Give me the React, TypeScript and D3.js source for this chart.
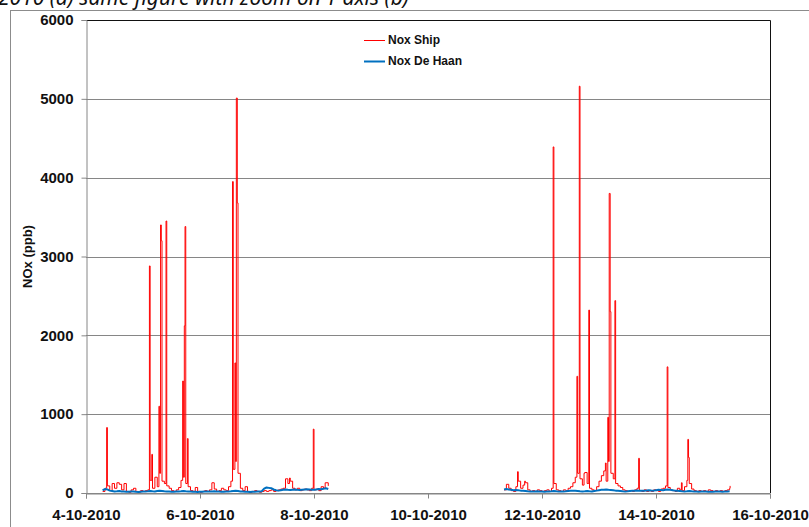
import React, { useRef, useEffect } from 'react';
import * as d3 from 'd3';

// hourly readings, hour 0 = 4-10-2010 00:00
const leftStartHour = 7;
const rightStartHour = 176;

const redBaseLeft = [
  20, 60, 90, 30, 120, 60, 130, 110, 40, 120, 20, 10, 40, 60, 20, 10, 30, 20, 30, 40,
  160, 60, 200, 80, 250, 150, 120, 90, 60, 30, 20, 40, 70, 160, 200, 120, 80, 30, 20, 70,
  20, 10, 20, 30, 20, 40, 130, 50, 20, 30, 60, 40, 30, 80, 150, 300, 400, 250, 60, 30,
  80, 20, 10, 20, 30, 20, 10, 20, 30, 20, 30, 40, 20, 30, 40, 50, 60, 180, 120, 150,
  60, 40, 60, 30, 40, 50, 40, 30, 60, 40, 50, 30, 80, 60, 130, 90,
];

const redBaseRight = [
  40, 110, 60, 30, 20, 80, 150, 60, 100, 130, 40, 20, 30, 20, 40, 30, 20, 30, 40, 20,
  60, 120, 40, 30, 20, 40, 30, 60, 80, 130, 200, 250, 180, 100, 260, 120, 60, 40, 30, 80,
  150, 220, 280, 150, 400, 250, 180, 120, 90, 70, 40, 30, 20, 30, 20, 40, 60, 30, 20, 40,
  20, 30, 20, 40, 30, 20, 50, 60, 90, 70, 40, 30, 20, 60, 40, 30, 80, 160, 120, 50,
  30, 20, 30, 20, 30, 20, 40, 30, 20, 30, 20, 30, 20, 30, 40, 60,
];

// short peaks between the hourly readings: [hour, ppb]
const redPeaksLeft: [number, number][] = [
  [8.7, 830], [26.7, 2880], [27.7, 490], [30.7, 1100], [31.4, 3400], [31.7, 3200],
  [33.7, 3450], [40.7, 1420], [41.4, 2120], [41.7, 3380], [42.7, 690], [61.7, 3950],
  [62.7, 1650], [63.3, 5010], [63.7, 3680], [85.7, 190], [95.7, 810], [100.7, 130],
];

const redPeaksRight: [number, number][] = [
  [181.7, 270], [184.7, 150], [196.7, 4390], [206.7, 1480], [207.7, 5160], [209.7, 250],
  [211.7, 2320], [218.7, 380], [219.7, 960], [220.3, 3800], [220.7, 2300], [222.7, 2440],
  [232.7, 440], [244.7, 1600], [250.7, 130], [253.4, 680], [253.7, 450], [271.2, 90],
];

const blueLeft = [
  35, 50, 45, 30, 25, 20, 22, 25, 20, 18, 15, 15, 18, 20, 15, 14, 16, 18, 20, 22,
  25, 22, 20, 25, 28, 25, 22, 20, 18, 16, 15, 18, 20, 22, 25, 22, 20, 18, 16, 15,
  14, 15, 16, 18, 20, 18, 20, 22, 20, 18, 16, 15, 18, 20, 22, 25, 28, 25, 20, 18,
  16, 15, 14, 15, 16, 18, 20, 22, 55, 70, 65, 60, 45, 35, 30, 35, 40, 45, 40, 38,
  42, 45, 40, 38, 42, 45, 48, 45, 42, 40, 45, 50, 48, 55, 60, 50,
];

const blueRight = [
  45, 50, 45, 40, 35, 38, 35, 30, 28, 25, 22, 20, 18, 20, 22, 20, 18, 16, 18, 20,
  22, 25, 22, 20, 18, 20, 22, 25, 28, 30, 28, 25, 22, 20, 22, 25, 22, 20, 25, 30,
  35, 40, 42, 45, 40, 38, 35, 30, 28, 25, 22, 20, 22, 25, 28, 30, 32, 30, 28, 30,
  32, 35, 32, 30, 35, 40, 38, 35, 40, 45, 40, 35, 30, 28, 25, 22, 20, 22, 25, 22,
  20, 18, 16, 18, 20, 18, 16, 15, 16, 18, 20, 18, 16, 18, 20, 22,
];

const xTickDays = [4, 6, 8, 10, 12, 14, 16]; // October 2010
const yTicks = [0, 1000, 2000, 3000, 4000, 5000, 6000];
const seriesNames = ['Nox Ship', 'Nox De Haan'];
const seriesColors = ['#ff0000', '#0070c0'];

const t0 = Date.UTC(2010, 9, 4);
const toDate = (h: number) => new Date(t0 + h * 3600e3);

function withHours(values: number[], start: number): [number, number][] {
  return values.map((v, i) => [start + i, v]);
}

function merged(base: [number, number][], peaks: [number, number][]) {
  return [...base, ...peaks].sort((a, b) => a[0] - b[0]);
}

export default function App() {
  const ref = useRef<SVGSVGElement>(null);

  useEffect(() => {
    if (!ref.current) return;
    const svg = d3.select(ref.current);
    svg.selectAll('*').remove();

    const width = 809;
    const height = 527;
    const margin = { top: 20, right: 39, bottom: 34, left: 86 };
    const innerW = width - margin.left - margin.right;
    const innerH = height - margin.top - margin.bottom;
    const font = '"Liberation Sans", Arial, sans-serif';

    // caption left over from the page above, cut by the top edge
    svg.append('text')
      .attr('x', -2)
      .attr('y', 5)
      .attr('font-family', '"Noto Sans", sans-serif')
      .attr('font-style', 'italic')
      .attr('font-size', 21)
      .attr('fill', '#111')
      .text('2010 (a) same figure with zoom on Y axis (b)');

    // chart area border
    svg.append('rect')
      .attr('x', 10.5).attr('y', 10.5)
      .attr('width', 830).attr('height', 540)
      .attr('fill', 'none')
      .attr('stroke', '#8c8c8c');

    const g = svg.append('g').attr('transform', `translate(${margin.left},${margin.top})`);

    const x = d3.scaleUtc()
      .domain([new Date(Date.UTC(2010, 9, 4)), new Date(Date.UTC(2010, 9, 16))])
      .range([0, innerW]);

    const y = d3.scaleLinear().domain([0, 6000]).range([innerH, 0]);

    // grid
    g.selectAll('.grid')
      .data(yTicks)
      .enter()
      .append('line')
      .attr('x1', 0).attr('x2', innerW)
      .attr('y1', d => Math.round(y(d)) + 0.5)
      .attr('y2', d => Math.round(y(d)) + 0.5)
      .attr('stroke', '#868686');

    // plot frame top + right
    g.append('path')
      .attr('d', `M0,0.5H${innerW + 0.5}V${innerH}`)
      .attr('fill', 'none')
      .attr('stroke', '#111');

    // y axis
    const yAxis = g.append('g')
      .attr('transform', 'translate(0.5,0)')
      .call(d3.axisLeft(y).tickValues(yTicks).tickSize(5).tickPadding(8).tickFormat(d3.format('d')));
    yAxis.select('.domain').attr('stroke', '#868686');
    yAxis.selectAll('.tick line').attr('stroke', '#868686');
    yAxis.selectAll('.tick text')
      .attr('font-family', font)
      .attr('font-weight', 'bold')
      .attr('font-size', 15)
      .attr('fill', '#111');

    // x axis
    const xAxis = g.append('g')
      .attr('transform', `translate(0,${Math.round(innerH) + 0.5})`)
      .call(d3.axisBottom(x)
        .tickValues(xTickDays.map(d => new Date(Date.UTC(2010, 9, d))))
        .tickSize(5).tickPadding(11)
        .tickFormat(d3.utcFormat('%-d-%m-%Y') as any));
    xAxis.select('.domain').attr('stroke', '#868686');
    xAxis.selectAll('.tick line').attr('stroke', '#868686');
    xAxis.selectAll('.tick text')
      .attr('font-family', font)
      .attr('font-weight', 'bold')
      .attr('font-size', 15)
      .attr('fill', '#111');

    // y title
    g.append('text')
      .attr('transform', `translate(${27 - margin.left},${innerH / 2}) rotate(-90)`)
      .attr('text-anchor', 'middle')
      .attr('dy', '0.35em')
      .attr('font-family', font)
      .attr('font-weight', 'bold')
      .attr('font-size', 13)
      .attr('fill', '#111')
      .text('NOx (ppb)');

    const line = d3.line<[number, number]>()
      .x(d => x(toDate(d[0])))
      .y(d => y(d[1]));

    const redLine = d3.line<[number, number]>()
      .x(d => x(toDate(d[0])))
      .y(d => y(d[1]))
      .curve(d3.curveStepAfter);

    const red = [
      merged(withHours(redBaseLeft, leftStartHour), redPeaksLeft),
      merged(withHours(redBaseRight, rightStartHour), redPeaksRight),
    ];
    const blue = [
      withHours(blueLeft, leftStartHour),
      withHours(blueRight, rightStartHour),
    ];

    red.forEach(seg => {
      g.append('path')
        .datum(seg)
        .attr('fill', 'none')
        .attr('stroke', seriesColors[0])
        .attr('stroke-width', 1)
        .attr('d', redLine);
    });

    blue.forEach(seg => {
      g.append('path')
        .datum(seg)
        .attr('fill', 'none')
        .attr('stroke', seriesColors[1])
        .attr('stroke-width', 2)
        .attr('stroke-linejoin', 'round')
        .attr('d', line);
    });

    // legend
    const legend = svg.append('g').attr('transform', 'translate(364,40)');
    seriesNames.forEach((name, i) => {
      const row = legend.append('g').attr('transform', `translate(0,${i * 21})`);
      row.append('line')
        .attr('x1', 0).attr('x2', 21)
        .attr('y1', 0.5).attr('y2', 0.5)
        .attr('stroke', seriesColors[i])
        .attr('stroke-width', i === 0 ? 1 : 2);
      row.append('text')
        .attr('x', 24)
        .attr('y', 0)
        .attr('dy', '0.35em')
        .attr('font-family', font)
        .attr('font-weight', 'bold')
        .attr('font-size', 12)
        .attr('fill', '#111')
        .text(name);
    });
  }, []);

  return (
    <svg
      ref={ref}
      width={809}
      height={527}
      style={{ position: 'absolute', left: 0, top: 0, background: '#fff' }}
    />
  );
}
